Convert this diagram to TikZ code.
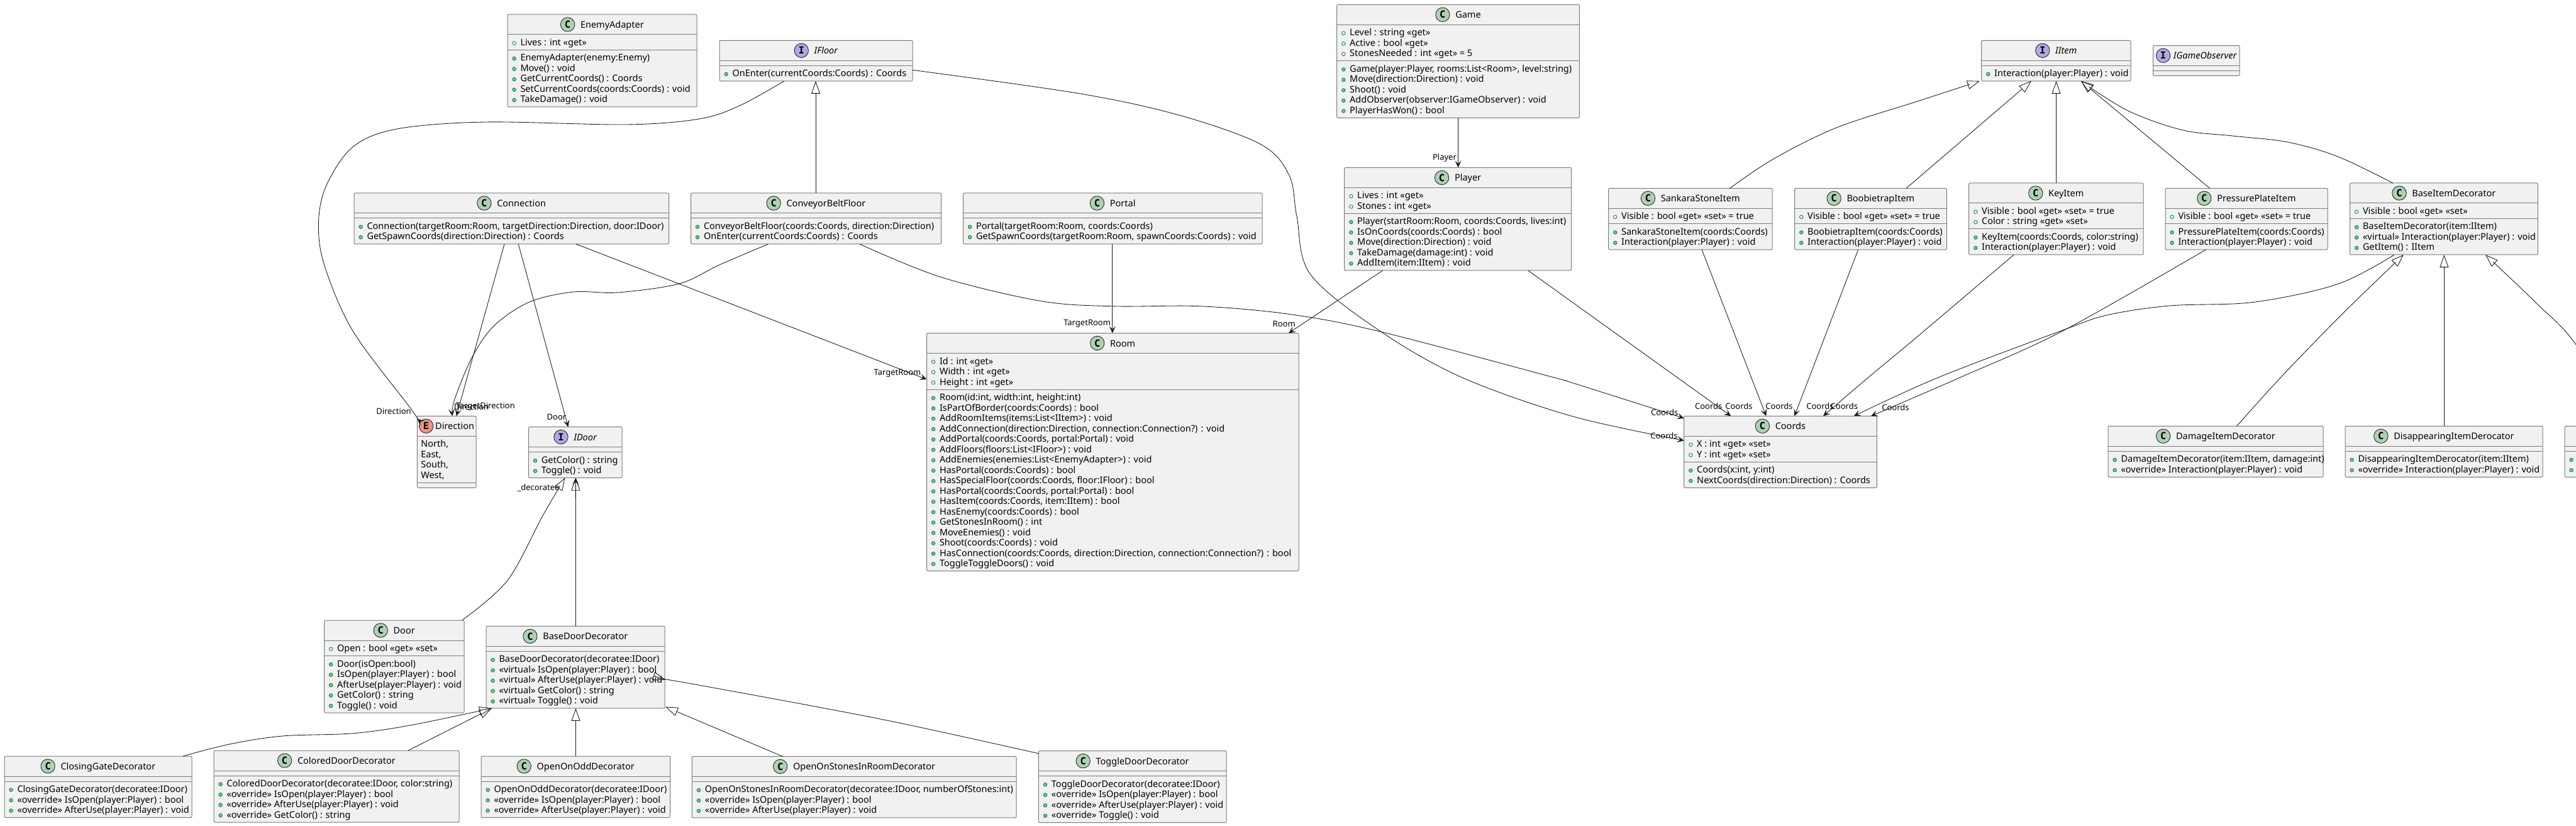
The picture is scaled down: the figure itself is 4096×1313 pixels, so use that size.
\documentclass[tikz,border=0pt]{standalone}
\usepackage{fontspec}
\setmainfont[Ligatures=NoCommon]{Noto Sans}
\setmonofont{DejaVu Sans Mono}
\usetikzlibrary{arrows.meta}
\definecolor{boxfill}{HTML}{F1F1F1}
\definecolor{boxline}{HTML}{7C7C7C}
\definecolor{ink}{HTML}{181818}
\definecolor{iconC}{HTML}{ADD1B2}
\definecolor{iconI}{HTML}{B4A7E5}
\definecolor{iconE}{HTML}{EB937F}
\definecolor{methfill}{HTML}{84BE84}
\definecolor{methline}{HTML}{038048}
\def\classfont{\normalfont\fontsize{14.5}{16}\selectfont}
\def\labelfont{\normalfont\fontsize{13}{15}\selectfont}
\tikzset{
  classbody/.style={rectangle,draw=boxline,fill=boxfill,line width=1pt,rounded corners=2pt,inner sep=0pt,outer sep=0pt,anchor=north west},
  sepline/.style={draw=boxline,line width=1pt},
  icon/.style={circle,draw=ink,line width=.8pt,minimum size=22.4pt,inner sep=0pt,font=\ttfamily\bfseries\fontsize{15.5}{16}\selectfont,text=black},
  iconkindC/.style={icon,fill=iconC},
  iconkindI/.style={icon,fill=iconI},
  iconkindE/.style={icon,fill=iconE},
  titletext/.style={anchor=base west,inner sep=0pt,font=\classfont,text=black},
  memtext/.style={anchor=base west,inner sep=0pt,font=\classfont,text=black},
  attrdot/.style={circle,draw=methline,line width=.8pt,minimum size=5.6pt,inner sep=0pt},
  methdot/.style={attrdot,fill=methfill},
  linklabel/.style={inner sep=0pt,font=\labelfont,text=black},
  assoc/.style={draw=ink,line width=.85pt,-{Stealth[length=11pt,width=10pt,inset=5pt,fill=ink]}},
  gener/.style={draw=ink,line width=.85pt,-{Triangle[open,length=20pt,width=14pt]}},
  curve/.style={smooth,tension=.55},
}
\newcounter{membn}
\newlength\titlew
\makeatletter
% name, left, top, right, kind, title, nAttr, nMeth
\newcommand\uclass[8]{%
  \pgfmathsetmacro\uW{#4-#2}%
  \pgfmathsetmacro\uA{#7*16.5+8}%
  \pgfmathsetmacro\uM{#8*16.5+8}%
  \pgfmathsetmacro\uH{32+\uA+\uM}%
  \node[classbody,minimum width=\uW pt,minimum height=\uH pt] (#1) at (#2,#3) {};
  \draw[sepline] ([yshift=-32pt]#1.north west) -- ([yshift=-32pt]#1.north east);
  \pgfmathsetmacro\uS{32+\uA}%
  \draw[sepline] ([yshift=-\uS pt]#1.north west) -- ([yshift=-\uS pt]#1.north east);
  \if#5I\def\ttl{\itshape #6}\else\def\ttl{#6}\fi
  \settowidth{\titlew}{\let\selectfont\pgf@selectfontorig\classfont\ttl}%
  \pgfmathsetmacro\uTw{\titlew}%
  \pgfmathsetmacro\uGap{min(9,(\uW-22.4-\uTw)/3)}%
  \pgfmathsetmacro\uStart{#2+(\uW-22.4-\uGap-\uTw)/2}%
  \node[iconkind#5] (#1-icon) at (\uStart+11.2,#3+16) {#5};
  \node[titletext] (#1-title) at (\uStart+22.4+\uGap,#3+21.5) {\ttl};
  \xdef\curname{#1}%
  \xdef\curleft{#2}%
  \pgfmathsetmacro\tmpA{#3+32+13.6}\xdef\attrY{\tmpA}%
  \pgfmathsetmacro\tmpM{#3+32+\uA+13.6}\xdef\methY{\tmpM}%
}
\makeatother
\newcommand\attr[1]{%
  \stepcounter{membn}%
  \node[attrdot] (\curname-d\themembn) at (\curleft+10.6,\attrY) {};
  \node[memtext] (\curname-t\themembn) at (\curleft+20.3,\attrY+3.9) {#1};
  \pgfmathsetmacro\tmpA{\attrY+16.5}\xdef\attrY{\tmpA}%
}
\newcommand\enumv[1]{%
  \stepcounter{membn}%
  \node[memtext] (\curname-t\themembn) at (\curleft+5.8,\attrY+3.9) {#1};
  \pgfmathsetmacro\tmpA{\attrY+16.5}\xdef\attrY{\tmpA}%
}
\newcommand\meth[1]{%
  \stepcounter{membn}%
  \node[methdot] (\curname-d\themembn) at (\curleft+10.6,\methY) {};
  \node[memtext] (\curname-t\themembn) at (\curleft+20.3,\methY+3.9) {#1};
  \pgfmathsetmacro\tmpM{\methY+16.5}\xdef\methY{\tmpM}%
}
\begin{document}
\begin{tikzpicture}[x=1pt,y=-1pt]
\useasboundingbox (0,0) rectangle (4096,1313);
\fill[white] (0,0) rectangle (4096,1313);
\clip (0,0) rectangle (4096,1313);

\uclass{EnemyAdapter}{807}{23}{1108}{C}{EnemyAdapter}{1}{5}
\attr{Lives : int «get»}
\meth{EnemyAdapter(enemy:Enemy)}
\meth{Move() : void}
\meth{GetCurrentCoords() : Coords}
\meth{SetCurrentCoords(coords:Coords) : void}
\meth{TakeDamage() : void}

\uclass{IFloor}{1144}{64.3}{1451}{I}{IFloor}{0}{1}
\meth{OnEnter(currentCoords:Coords) : Coords}

\uclass{Connection}{563}{307}{1063.5}{C}{Connection}{0}{2}
\meth{Connection(targetRoom:Room, targetDirection:Direction, door:IDoor)}
\meth{GetSpawnCoords(direction:Direction) : Coords}

\uclass{ConveyorBeltFloor}{1098.5}{307}{1496.5}{C}{ConveyorBeltFloor}{0}{2}
\meth{ConveyorBeltFloor(coords:Coords, direction:Direction)}
\meth{OnEnter(currentCoords:Coords) : Coords}

\uclass{Portal}{1531.5}{307}{2007}{C}{Portal}{0}{2}
\meth{Portal(targetRoom:Room, coords:Coords)}
\meth{GetSpawnCoords(targetRoom:Room, spawnCoords:Coords) : void}

\uclass{Room}{1473.5}{529.5}{2065}{C}{Room}{3}{17}
\attr{Id : int «get»}
\attr{Width : int «get»}
\attr{Height : int «get»}
\meth{Room(id:int, width:int, height:int)}
\meth{IsPartOfBorder(coords:Coords) : bool}
\meth{AddRoomItems(items:List<IItem>) : void}
\meth{AddConnection(direction:Direction, connection:Connection?) : void}
\meth{AddPortal(coords:Coords, portal:Portal) : void}
\meth{AddFloors(floors:List<IFloor>) : void}
\meth{AddEnemies(enemies:List<EnemyAdapter>) : void}
\meth{HasPortal(coords:Coords) : bool}
\meth{HasSpecialFloor(coords:Coords, floor:IFloor) : bool}
\meth{HasPortal(coords:Coords, portal:Portal) : bool}
\meth{HasItem(coords:Coords, item:IItem) : bool}
\meth{HasEnemy(coords:Coords) : bool}
\meth{GetStonesInRoom() : int}
\meth{MoveEnemies() : void}
\meth{Shoot(coords:Coords) : void}
\meth{HasConnection(coords:Coords, direction:Direction, connection:Connection?) : bool}
\meth{ToggleToggleDoors() : void}

\uclass{Game}{2125.7}{7.3}{2511.4}{C}{Game}{3}{5}
\attr{Level : string «get»}
\attr{Active : bool «get»}
\attr{StonesNeeded : int «get» = 5}
\meth{Game(player:Player, rooms:List<Room>, level:string)}
\meth{Move(direction:Direction) : void}
\meth{Shoot() : void}
\meth{AddObserver(observer:IGameObserver) : void}
\meth{PlayerHasWon() : bool}

\uclass{Player}{2137.7}{266.4}{2498.7}{C}{Player}{2}{5}
\attr{Lives : int «get»}
\attr{Stones : int «get»}
\meth{Player(startRoom:Room, coords:Coords, lives:int)}
\meth{IsOnCoords(coords:Coords) : bool}
\meth{Move(direction:Direction) : void}
\meth{TakeDamage(damage:int) : void}
\meth{AddItem(item:IItem) : void}

\uclass{SankaraStoneItem}{2557.6}{299.3}{2818}{C}{SankaraStoneItem}{1}{2}
\attr{Visible : bool «get» «set» = true}
\meth{SankaraStoneItem(coords:Coords)}
\meth{Interaction(player:Player) : void}

\uclass{BoobietrapItem}{2853.6}{299.3}{3095.3}{C}{BoobietrapItem}{1}{2}
\attr{Visible : bool «get» «set» = true}
\meth{BoobietrapItem(coords:Coords)}
\meth{Interaction(player:Player) : void}

\uclass{KeyItem}{3130.7}{291}{3408}{C}{KeyItem}{2}{2}
\attr{Visible : bool «get» «set» = true}
\attr{Color : string «get» «set»}
\meth{KeyItem(coords:Coords, color:string)}
\meth{Interaction(player:Player) : void}

\uclass{PressurePlateItem}{3443}{299.3}{3701}{C}{PressurePlateItem}{1}{2}
\attr{Visible : bool «get» «set» = true}
\meth{PressurePlateItem(coords:Coords)}
\meth{Interaction(player:Player) : void}

\uclass{BaseItemDecorator}{3736.5}{291}{4035.3}{C}{BaseItemDecorator}{1}{3}
\attr{Visible : bool «get» «set»}
\meth{BaseItemDecorator(item:IItem)}
\meth{«virtual» Interaction(player:Player) : void}
\meth{GetItem() : IItem}

\uclass{IItem}{3150.7}{64.3}{3388}{I}{IItem}{0}{1}
\meth{Interaction(player:Player) : void}

\uclass{IGameObserver}{3423.6}{72.3}{3561}{I}{IGameObserver}{0}{0}

\uclass{Coords}{2677.7}{661.3}{2984.3}{C}{Coords}{2}{2}
\attr{X : int «get» «set»}
\attr{Y : int «get» «set»}
\meth{Coords(x:int, y:int)}
\meth{NextCoords(direction:Direction) : Coords}

\uclass{DamageItemDecorator}{3352}{677.3}{3694}{C}{DamageItemDecorator}{0}{2}
\meth{DamageItemDecorator(item:IItem, damage:int)}
\meth{«override» Interaction(player:Player) : void}

\uclass{DisappearingItemDerocator}{3729}{677.3}{4043}{C}{DisappearingItemDerocator}{0}{2}
\meth{DisappearingItemDerocator(item:IItem)}
\meth{«override» Interaction(player:Player) : void}

% the class cut off by the right edge of the picture
\node[classbody,minimum width=300pt,minimum height=81pt] (CutOffDecorator) at (4078,677.3) {};
\draw[sepline] ([yshift=-32pt]CutOffDecorator.north west) -- ([yshift=-32pt]CutOffDecorator.north east);
\draw[sepline] ([yshift=-40pt]CutOffDecorator.north west) -- ([yshift=-40pt]CutOffDecorator.north east);
\node[methdot] (CutOffDecorator-d1) at (4088.6,730.9) {};
\node[methdot] (CutOffDecorator-d2) at (4088.6,747.4) {};

\uclass{Direction}{663.3}{661.3}{757}{E}{Direction}{4}{0}
\enumv{North,}
\enumv{East,}
\enumv{South,}
\enumv{West,}

\uclass{IDoor}{840.4}{678.6}{989}{I}{IDoor}{0}{2}
\meth{GetColor() : string}
\meth{Toggle() : void}

\uclass{Door}{515.6}{986}{738}{C}{Door}{1}{5}
\attr{Open : bool «get» «set»}
\meth{Door(isOpen:bool)}
\meth{IsOpen(player:Player) : bool}
\meth{AfterUse(player:Player) : void}
\meth{GetColor() : string}
\meth{Toggle() : void}

\uclass{BaseDoorDecorator}{773}{995.4}{1057}{C}{BaseDoorDecorator}{0}{5}
\meth{BaseDoorDecorator(decoratee:IDoor)}
\meth{«virtual» IsOpen(player:Player) : bool}
\meth{«virtual» AfterUse(player:Player) : void}
\meth{«virtual» GetColor() : string}
\meth{«virtual» Toggle() : void}

\uclass{ClosingGateDecorator}{7}{1202}{305}{C}{ClosingGateDecorator}{0}{3}
\meth{ClosingGateDecorator(decoratee:IDoor)}
\meth{«override» IsOpen(player:Player) : bool}
\meth{«override» AfterUse(player:Player) : void}

\uclass{ColoredDoorDecorator}{340}{1193}{730}{C}{ColoredDoorDecorator}{0}{4}
\meth{ColoredDoorDecorator(decoratee:IDoor, color:string)}
\meth{«override» IsOpen(player:Player) : bool}
\meth{«override» AfterUse(player:Player) : void}
\meth{«override» GetColor() : string}

\uclass{OpenOnOddDecorator}{765}{1202}{1065.6}{C}{OpenOnOddDecorator}{0}{3}
\meth{OpenOnOddDecorator(decoratee:IDoor)}
\meth{«override» IsOpen(player:Player) : bool}
\meth{«override» AfterUse(player:Player) : void}

\uclass{OpenOnStonesInRoomDecorator}{1100.4}{1202.4}{1616}{C}{OpenOnStonesInRoomDecorator}{0}{3}
\meth{OpenOnStonesInRoomDecorator(decoratee:IDoor, numberOfStones:int)}
\meth{«override» IsOpen(player:Player) : bool}
\meth{«override» AfterUse(player:Player) : void}

\uclass{ToggleDoorDecorator}{1651.4}{1193.6}{1950}{C}{ToggleDoorDecorator}{0}{4}
\meth{ToggleDoorDecorator(decoratee:IDoor)}
\meth{«override» IsOpen(player:Player) : bool}
\meth{«override» AfterUse(player:Player) : void}
\meth{«override» Toggle() : void}

% associations
\draw[assoc] plot[curve] coordinates {([xshift=103pt]IFloor.south west) (1176,168) (1112,189) (996,198) (771.7,194) (631,205) (561,233.6) (519,294.6) (506.5,353.5) (515.6,421) (561,526) (652,648) ([yshift=-4.5pt]Direction.north west)};
\draw[assoc] plot[curve] coordinates {([yshift=-47pt]IFloor.north east) (1718,149) (1877,183.7) (2005,229.6) (2050,279) (2062,344) (2083.5,436) (2194,526) (2324.6,600) (2500,661.7) ([yshift=-39pt]Coords.north west)};
\draw[assoc] plot[curve] coordinates {([xshift=268.5pt]ConveyorBeltFloor.south west) (1494.5,440) (1654,478.4) (1769,486.8) (1909,486.8) (2050,499.4) (2194,527) (2470.5,600) (2500,608.5) ([yshift=-3.5pt]Coords.north west)};
\draw[assoc] plot[curve] coordinates {([xshift=123pt]ConveyorBeltFloor.south west) (1144,421) (1080,451) (982,465) (912,464) (842,480) (785.7,517.7) (750.6,568) (722.6,635.5) ([xshift=56pt]Direction.north west)};
\draw[assoc] ([xshift=239pt]Connection.south west) -- ([xshift=62.4pt]Direction.north west);
\draw[assoc] ([xshift=353pt]Connection.south west) -- ([yshift=-73.5pt]Room.north west);
\draw[assoc] ([xshift=261.3pt]Connection.south west) -- ([xshift=63pt]IDoor.north west);
\draw[assoc] ([xshift=237.3pt]Portal.south west) -- ([xshift=295.3pt]Room.north west);
\draw[assoc] ([xshift=61pt]Player.south west) -- ([xshift=575.5pt]Room.north west);
\draw[assoc] ([xshift=292pt]Player.south west) -- ([xshift=74.6pt]Coords.north west);
\draw[assoc] ([xshift=148.4pt]SankaraStoneItem.south west) -- ([xshift=130.6pt]Coords.north west);
\draw[assoc] ([xshift=101pt]BoobietrapItem.south west) -- ([xshift=175.6pt]Coords.north west);
\draw[assoc] plot[curve] coordinates {([xshift=71.3pt]KeyItem.south west) (3050,534) (2970.7,600) ([xshift=221.3pt]Coords.north west)};
\draw[assoc] plot[curve] coordinates {([xshift=64.6pt]PressurePlateItem.south west) (3280,526) (3116.7,600) ([xshift=297.3pt]Coords.north west)};
\draw[assoc] plot[curve] coordinates {([xshift=70.5pt]BaseItemDecorator.south west) (3717,451.6) (3583.7,480.3) (3450,486) (3350,501) (3277,526) (3082,600) ([xshift=270pt]Coords.north west)};
\draw[assoc] ([xshift=192.8pt]Game.south west) -- ([xshift=180.8pt]Player.north west);
\draw[assoc] ([xshift=142.5pt]BaseDoorDecorator.north west) -- ([xshift=75pt]IDoor.south west);

% generalisations
\draw[gener] ([xshift=198.5pt]ConveyorBeltFloor.north west) -- ([xshift=153pt]IFloor.south west);
\draw[gener] plot[curve] coordinates {([xshift=192.9pt]SankaraStoneItem.north west) (2820,252.6) (2920.5,202.8) (3050,160.7) ([xshift=-2.7pt]IItem.south west)};
\draw[gener] ([xshift=177.4pt]BoobietrapItem.north west) -- ([xshift=79.3pt]IItem.south west);
\draw[gener] ([xshift=138.8pt]KeyItem.north west) -- ([xshift=118.8pt]IItem.south west);
\draw[gener] ([xshift=70.6pt]PressurePlateItem.north west) -- ([xshift=158pt]IItem.south west);
\draw[gener] plot[curve] coordinates {([xshift=68.5pt]BaseItemDecorator.north west) (3717,248.8) (3637,225.8) (3550,216) (3470,206.7) (3383.5,176) ([xshift=158pt]IItem.south west)};
\draw[gener] plot[curve] coordinates {([xshift=204.5pt]DamageItemDecorator.north west) (3626.4,600) (3723.4,500) ([xshift=85.3pt]BaseItemDecorator.south west)};
\draw[gener] ([xshift=157.3pt]DisappearingItemDerocator.north west) -- ([xshift=149.8pt]BaseItemDecorator.south west);
\draw[gener] plot[curve] coordinates {([xshift=90pt]CutOffDecorator.north west) (4096,548) (4031,480) ([xshift=215.5pt]BaseItemDecorator.south west)};
\draw[gener] plot[curve] coordinates {([xshift=219pt]Door.north west) (806.7,923) (862.8,820) ([xshift=58pt]IDoor.south west)};
\draw[gener] ([xshift=142.5pt]BaseDoorDecorator.north west) -- ([xshift=75pt]IDoor.south west);
\draw[gener] plot[curve] coordinates {([xshift=284pt]ClosingGateDecorator.north west) (364.8,1183) (449,1170) (561,1165.8) (652.4,1152.9) ([xshift=9pt]BaseDoorDecorator.south west)};
\draw[gener] ([xshift=309pt]ColoredDoorDecorator.north west) -- ([xshift=9pt]BaseDoorDecorator.south west);
\draw[gener] ([xshift=150.5pt]OpenOnOddDecorator.north west) -- ([xshift=142.5pt]BaseDoorDecorator.south west);
\draw[gener] ([xshift=144pt]OpenOnStonesInRoomDecorator.north west) -- ([xshift=1pt,yshift=2.4pt]BaseDoorDecorator.south east);
\draw[gener] plot[curve] coordinates {([yshift=-4.2pt]ToggleDoorDecorator.north west) (1399,1142.8) (1100,1087) ([xshift=1pt,yshift=-85.4pt]BaseDoorDecorator.north east)};

% link labels
\node[linklabel] (lbl-dir1) at (626,653.3) {Direction};
\node[linklabel] (lbl-dir2) at (749.5,646.7) {Direction};
\node[linklabel] (lbl-tdir) at (771.7,646.7) {TargetDirection};
\node[linklabel] (lbl-door) at (885,663.3) {Door};
\node[linklabel] (lbl-decoratee) at (856,776) {\_decoratee};
\node[linklabel] (lbl-room1) at (1427,593.3) {TargetRoom};
\node[linklabel] (lbl-room2) at (1728.6,514.7) {TargetRoom};
\node[linklabel] (lbl-room3) at (2041.7,514.7) {Room};
\node[linklabel] (lbl-player) at (2297,251.4) {Player};
\node[linklabel] (lbl-c1) at (2646.7,655.3) {Coords};
\node[linklabel] (lbl-c2) at (2646,692.3) {Coords};
\node[linklabel] (lbl-c3) at (2716.7,646) {Coords};
\node[linklabel] (lbl-c4) at (2765,646) {Coords};
\node[linklabel] (lbl-c5) at (2829,646) {Coords};
\node[linklabel] (lbl-c6) at (2894,646) {Coords};
\node[linklabel] (lbl-c7) at (2932.3,646) {Coords};
\node[linklabel] (lbl-c8) at (3014,647.5) {Coords};
\end{tikzpicture}
\end{document}
